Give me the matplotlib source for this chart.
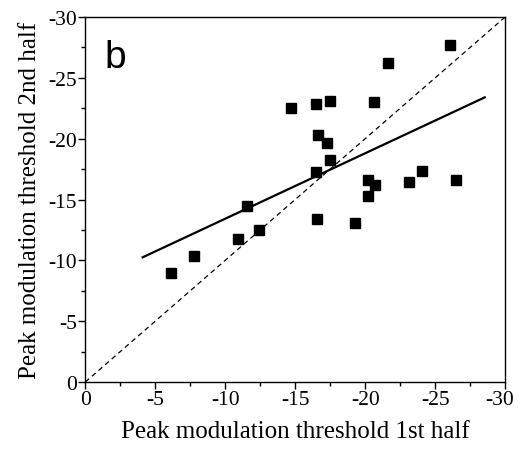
import numpy as np
import matplotlib.pyplot as plt
import matplotlib.transforms as mtransforms

# peak modulation thresholds (1st half vs 2nd half)
first_half = [-6.1, -7.8, -10.9, -12.4, -11.55, -16.55, -19.3, -16.5, -17.5, -17.3,
              -16.6, -14.7, -16.5, -17.5, -20.6, -21.6, -26.1, -20.2, -20.7, -20.2,
              -23.1, -24.05, -26.5]
second_half = [-8.96, -10.35, -11.75, -12.5, -14.46, -13.4, -13.07, -17.23, -18.24, -19.64,
               -20.3, -22.5, -22.84, -23.07, -22.98, -26.24, -27.7, -16.6, -16.2, -15.3,
               -16.46, -17.36, -16.6]

# regression line
fit_x = [-4.1, -28.55]
fit_y = [-10.25, -23.4]

ticks = [0, -5, -10, -15, -20, -25, -30]

plt.rcParams['font.family'] = ['Liberation Serif', 'DejaVu Serif']
plt.rcParams['axes.unicode_minus'] = False

fig = plt.figure(figsize=(5.18, 4.52), dpi=100)
ax = fig.add_axes([0.1647, 0.1527, 0.975 - 0.1647, 0.960 - 0.1527])

ax.plot([0, -30], [0, -30], 'k--', lw=0.9, dashes=(4, 3))
ax.plot(fit_x, fit_y, 'k-', lw=1.6)
ax.plot(first_half, second_half, 's', color='black', markersize=6.5, linestyle='none')

ax.set_xlim(0, -30)
ax.set_ylim(0, -30)
ax.set_xticks(ticks)
ax.set_yticks(ticks)
ax.set_xticks(np.arange(-2.5, -30, -5), minor=True)
ax.set_yticks(np.arange(-2.5, -30, -5), minor=True)
ax.tick_params(which='major', direction='out', length=5, width=1, labelsize=15.5, pad=1)
ax.tick_params(which='minor', direction='out', length=3, width=1)

# last x label sits against the right edge, nudge it in a bit
last = ax.get_xticklabels()[-1]
last.set_transform(last.get_transform() +
                   mtransforms.ScaledTranslation(-5 / 100, 0, fig.dpi_scale_trans))

for s in ax.spines.values():
    s.set_linewidth(1)

ax.set_xlabel('Peak modulation threshold 1st half', fontsize=18, labelpad=8)
ax.set_ylabel('Peak modulation threshold 2nd half', fontsize=18, labelpad=5)

ax.text(0.045, 0.94, 'b', transform=ax.transAxes, fontsize=28,
        family='Liberation Sans', va='top', ha='left')

fig.savefig('out.png', dpi=100)
